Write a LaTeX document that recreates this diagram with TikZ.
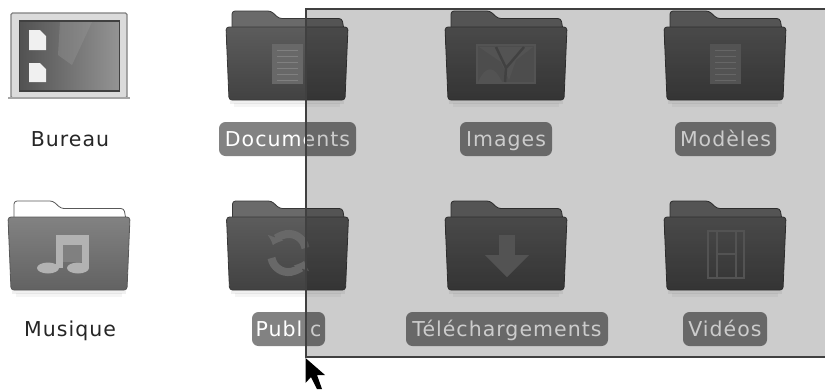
\documentclass[tikz,border=0pt]{standalone}
\usepackage{fontspec}
\setmainfont[LetterSpace=5]{DejaVu Sans}
\usetikzlibrary{arrows.meta}
\definecolor{icondark}{HTML}{686868}
\definecolor{labelfill}{HTML}{828282}
\definecolor{dtop}{HTML}{5C5C5C}
\definecolor{dbot}{HTML}{424242}
\definecolor{dback}{HTML}{6A6A6A}
\definecolor{dedge}{HTML}{383838}
\definecolor{mtop}{HTML}{828282}
\definecolor{mbot}{HTML}{626262}
\definecolor{medge}{HTML}{585858}
\tikzset{
  x=1pt,y=-1pt,
  pill/.style={fill=labelfill,rounded corners=6.5pt,text=white,font=\fontsize{20.5}{22}\selectfont,anchor=center,inner sep=0pt,minimum height=34pt,text height=20pt,text depth=5pt},
  plainlabel/.style={text=black!85,font=\fontsize{20.5}{22}\selectfont,anchor=center,inner sep=0pt,text height=20pt,text depth=5pt},
}
% \Folder{cx}{dy}{top}{bottom}{back}{edge}{icon code}
\newcommand\Folder[7]{%
\begin{scope}[shift={(#1,#2)}]
  \fill[black,opacity=.06] (-57,99) rectangle (57,104);
  \fill[black,opacity=.04] (-53,103) rectangle (53,107);
  \draw[#6,fill=#5,rounded corners=3pt,line width=.8pt]
    (-55,30) -- (-55,11) -- (-16,11) -- (-8,18.5) -- (55,18.5) -- (57,30) -- cycle;
  \draw[#6,top color=#3,bottom color=#4,rounded corners=3pt,line width=.8pt]
    (-61,27) -- (61,27) -- (58,100) -- (-58,100) -- cycle;
  #7
\end{scope}}
\begin{document}
\begin{tikzpicture}
\useasboundingbox (0,0) rectangle (825,389);
\clip (0,0) rectangle (825,389);
\fill[white] (0,0) rectangle (825,389);
% Bureau icon
\begin{scope}
  \fill[black!14,draw=black!50,line width=1.2pt,rounded corners=1.5pt] (11,13) rectangle (127,98);
  \fill[black!35] (8,96.5) rectangle (130,99);
  \shade[left color=black!68,right color=black!42,draw=black!75,line width=1.8pt] (19.5,21) rectangle (119.5,91);
  \fill[black!40,opacity=.35] (60,22) -- (92,22) -- (72,65) -- (58,55) -- cycle;
  \fill[black!6] (29,30) -- (40,30) -- (46,36) -- (46,50) -- (29,50) -- cycle;
  \fill[black!6] (29,63) -- (40,63) -- (46,69) -- (46,82) -- (29,82) -- cycle;
\end{scope}
% Top row
\Folder{287}{0}{dtop}{dbot}{dback}{dedge}{%
  \fill[icondark] (-15,44) rectangle (16,84);
  \foreach \k in {50,56,...,80}{\draw[black!50,line width=1pt] (-10,\k) -- (11,\k);}
}
\Folder{506}{0}{dtop}{dbot}{dback}{dedge}{%
  \draw[icondark,line width=2pt,fill=black!62] (-29,45) rectangle (29,83);
  \fill[icondark] (-27,47) -- (27,47) -- (10,60) -- (3,80) -- (-5,62) -- cycle;
  \draw[black!68,line width=2.5pt] (-10,47) -- (0,68) -- (18,47) (0,68) -- (-1,82);
  \fill[icondark] (-28,82) .. controls (-20,65) and (-12,65) .. (-4,82) -- cycle;
}
\Folder{725}{0}{dtop}{dbot}{dback}{dedge}{%
  \fill[icondark] (-15,44) rectangle (16,84);
  \foreach \k in {50,56,...,80}{\draw[black!50,line width=1pt] (-10,\k) -- (11,\k);}
}
% Bottom row
\Folder{69}{190}{mtop}{mbot}{white}{medge}{%
  \fill[black!30] (-13,45) rectangle (20,72);
  \fill[black!50] (-6,55) rectangle (13,72);
  \fill[black!30] (-13,70) rectangle (-6,78);
  \fill[black!30] (13,70) rectangle (20,78);
  \fill[black!30] (-21,78) ellipse (11 and 5.5);
  \fill[black!30] (9,78) ellipse (11 and 5.5);
}
\Folder{287.5}{190}{dtop}{dbot}{dback}{dedge}{%
  \draw[icondark,line width=8pt,-{Latex[length=8pt,width=18pt]}] (-16,68) arc[start angle=170,end angle=20,radius=17];
  \draw[icondark,line width=8pt,-{Latex[length=8pt,width=18pt]}] (18,58) arc[start angle=-10,end angle=-160,radius=17];
}
\Folder{506}{190}{dtop}{dbot}{dback}{dedge}{%
  \fill[icondark] (-7,45) rectangle (9,65);
  \fill[icondark] (-21,65) -- (23,65) -- (1,87) -- cycle;
}
\Folder{725}{190}{dtop}{dbot}{dback}{dedge}{%
  \draw[icondark,line width=2.5pt] (-17,41) rectangle (19,88);
  \draw[icondark,line width=2.5pt] (-8,41) -- (-8,88) (11,41) -- (11,88) (-8,64) -- (11,64);
}
% Labels
\node[plainlabel] (bureau) at (70,139) {Bureau};
\node[plainlabel] (musique) at (70,329) {Musique};
\node[pill,minimum width=137pt] (documents) at (287.5,139) {Documents};
\node[pill,minimum width=92pt] (images) at (506,139) {Images};
\node[pill,minimum width=101pt] (modeles) at (725.5,139) {Modèles};
\node[pill,minimum width=73pt] (public) at (288.5,329) {Public};
\node[pill,minimum width=202pt] (telechargements) at (507,329) {Téléchargements};
\node[pill,minimum width=84pt] (videos) at (725,329) {Vidéos};
% Rubber-band selection
\fill[black,opacity=.2] (306,9) rectangle (830,357);
\draw[black!75,line width=1.6pt] (830,9) -- (306,9) -- (306,357) -- (830,357);
% Cursor
\fill[black] (305.5,358) -- (305.5,383) -- (311,377) -- (317,389) -- (322,389) -- (317,375) -- (325,375) -- cycle;
\end{tikzpicture}
\end{document}
